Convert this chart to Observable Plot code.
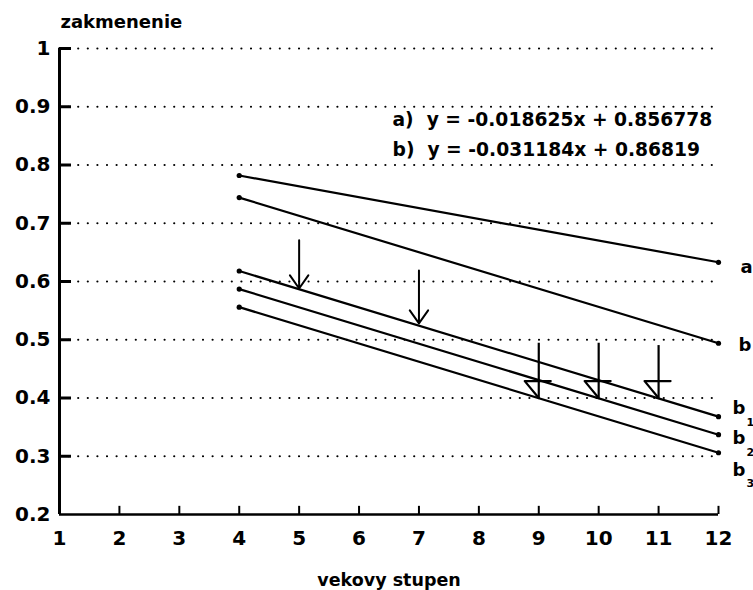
<!DOCTYPE html>
<html>
<head>
<meta charset="utf-8">
<script src="https://cdn.jsdelivr.net/npm/d3@7"></script>
<script src="https://cdn.jsdelivr.net/npm/@observablehq/plot@0.6"></script>
<style>
  html, body { margin: 0; padding: 0; background: white; }
  #chart svg { display: block; }
</style>
</head>
<body>
<div id="chart"></div>
<script>
// ---- data ----
const xTicks = [1, 2, 3, 4, 5, 6, 7, 8, 9, 10, 11, 12];
const yTicks = [0.2, 0.3, 0.4, 0.5, 0.6, 0.7, 0.8, 0.9, 1];
const xEnds = [4, 12];
const seriesNames = ["a", "b", "b1", "b2", "b3"];
const yA  = [0.782, 0.633];
const yB  = [0.744, 0.494];
const yB1 = [0.618, 0.368];
const yB2 = [0.587, 0.337];
const yB3 = [0.556, 0.306];
const equations = ["a)\u00a0 y = -0.018625x + 0.856778", "b)\u00a0 y = -0.031184x + 0.86819"];
const yLabel = "zakmenenie";
const xLabel = "vekovy stupen";
// arrows: position on x, top and tip values
const arrowX      = [5, 7, 9, 10, 11];
const arrowTop    = [0.671, 0.619, 0.494, 0.494, 0.490];
const arrowBottom = [0.588, 0.528, 0.400, 0.400, 0.400];
const arrowKind   = ["v", "v", "flag", "flag", "flag"];

// ---- build tables ----
const seriesY = [yA, yB, yB1, yB2, yB3];
const lineData = seriesNames.flatMap((s, i) => xEnds.map((x, j) => ({series: s, x, y: seriesY[i][j]})));
const endData = lineData.filter(d => d.x === xEnds[1]);
const arrows = arrowX.map((x, i) => ({x, top: arrowTop[i], bottom: arrowBottom[i], kind: arrowKind[i], id: i}));
const vArrows = arrows.filter(d => d.kind === "v");
const flagArrows = arrows.filter(d => d.kind === "flag");
const flagPts = flagArrows.flatMap(d => [
  {id: d.id, x: d.x + 0.2, y: d.bottom + 0.029},
  {id: d.id, x: d.x - 0.234, y: d.bottom + 0.029},
  {id: d.id, x: d.x, y: d.bottom}
]);

// label offsets (style)
const labelDx = {a: 22, b: 20, b1: 14, b2: 14, b3: 14};
const labelDy = {a: 5, b: 2, b1: -8, b2: 4, b3: 17};
const subOf = {b1: "1", b2: "2", b3: "3"};

const black = "#000";
const font = "DejaVu Sans";
const x0 = xTicks[0], y0 = yTicks[0];
const yTickLen = 0.2;    // inward tick length on the y axis, in x units
const xTickLen = 0.014;  // inward tick length on the x axis, in y units

const marks = [
  Plot.gridY(yTicks.filter(v => v > y0), {stroke: black, strokeOpacity: 1, strokeWidth: 2.2, strokeDasharray: "0,9.6", strokeLinecap: "round"}),
  Plot.axisY(yTicks, {tickSize: 0, tickPadding: 9, tickFormat: d3.format("~g"), fontSize: 20, fontWeight: "bold", label: null}),
  Plot.axisX(xTicks, {tickSize: 0, tickPadding: 16, fontSize: 20, fontWeight: "bold", label: null}),
  // inward tick marks
  Plot.ruleY(yTicks.filter(v => v > y0), {y: d => d, x1: x0, x2: x0 + yTickLen, strokeWidth: 3, stroke: black}),
  Plot.ruleX(xTicks.filter(v => v > x0), {x: d => d, y1: y0, y2: y0 + xTickLen, strokeWidth: 2, stroke: black}),
  Plot.ruleX([x0], {strokeWidth: 3}),
  Plot.ruleY([y0], {strokeWidth: 2.5}),
  Plot.line(lineData, {x: "x", y: "y", z: "series", stroke: black, strokeWidth: 2.2}),
  Plot.dot(lineData, {x: "x", y: "y", r: 2.6, fill: black, stroke: null}),
  Plot.arrow(vArrows, {x1: "x", x2: "x", y1: "top", y2: "bottom", headLength: 12, headAngle: 70, strokeWidth: 2, stroke: black}),
  Plot.ruleX(flagArrows, {x: "x", y1: "top", y2: "bottom", strokeWidth: 2.2, stroke: black}),
  Plot.line(flagPts, {x: "x", y: "y", z: "id", strokeWidth: 2.2, stroke: black}),
  ...endData.map(d => Plot.text([d], {x: "x", y: "y", text: d => d.series[0], dx: labelDx[d.series], dy: labelDy[d.series], textAnchor: "start", fontSize: 18, fontWeight: "bold"})),
  ...endData.filter(d => subOf[d.series]).map(d => Plot.text([d], {x: "x", y: "y", text: d => subOf[d.series], dx: labelDx[d.series] + 14, dy: labelDy[d.series] + 14, textAnchor: "start", fontSize: 11, fontWeight: "bold"})),
  Plot.text([yLabel], {frameAnchor: "top-left", dx: 1, dy: -26, textAnchor: "start", lineAnchor: "middle", fontSize: 18, fontWeight: "bold"}),
  Plot.text([xLabel], {frameAnchor: "bottom", dy: 66, lineAnchor: "middle", fontSize: 17.5, fontWeight: "bold"}),
  Plot.text([equations[0]], {frameAnchor: "top-left", dx: 333, dy: 72, textAnchor: "start", lineAnchor: "middle", fontSize: 18.7, fontWeight: "bold"}),
  Plot.text([equations[1]], {frameAnchor: "top-left", dx: 333, dy: 102, textAnchor: "start", lineAnchor: "middle", fontSize: 18.7, fontWeight: "bold"})
];

const chart = Plot.plot({
  width: 753,
  height: 590,
  marginLeft: 59,
  marginRight: 35,
  marginTop: 48,
  marginBottom: 76,
  x: {domain: [xTicks[0], xTicks[xTicks.length - 1]]},
  y: {domain: [yTicks[0], yTicks[yTicks.length - 1]]},
  style: {fontFamily: font, background: "white", color: black, overflow: "visible"},
  marks
});
document.getElementById("chart").appendChild(chart);
</script>
</body>
</html>
